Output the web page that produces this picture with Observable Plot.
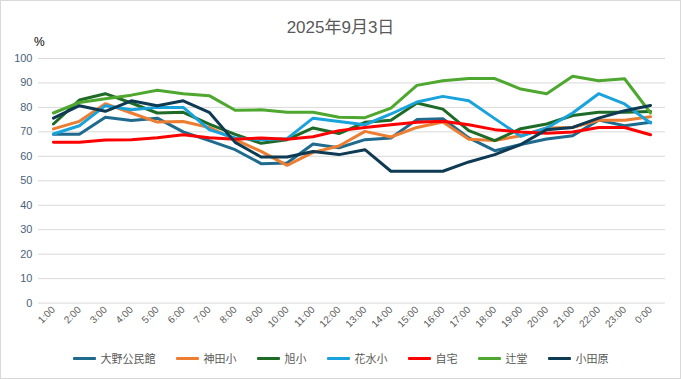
<!DOCTYPE html>
<html>
<head>
<meta charset="utf-8">
<script src="https://cdn.jsdelivr.net/npm/d3@7"></script>
<script src="https://cdn.jsdelivr.net/npm/@observablehq/plot@0.6"></script>
<style>
  html, body { margin: 0; padding: 0; background: #fff; }
  #wrap { position: relative; width: 681px; height: 379px; box-sizing: border-box; border: 1px solid #d9d9d9; background: #fff; overflow: hidden;
          font-family: "Liberation Sans", "Noto Sans CJK JP", sans-serif; }
  #title { position: absolute; left: 0; width: 679px; top: 12px; text-align: center; font-size: 17px; color: #595959; font-family: "Liberation Sans", "Noto Sans CJK JP", sans-serif; }
  #unit { position: absolute; left: 33px; top: 34px; font-size: 12px; color: #000; }
  #chart { position: absolute; left: -1px; top: 29px; }
  #legend { position: absolute; left: 0; width: 679px; top: 349px; display: flex; justify-content: center; gap: 20px; font-size: 11px; color: #595959; font-family: "Noto Sans CJK JP", sans-serif; }
  .item { display: flex; align-items: center; gap: 5px; }
  .sw { width: 23px; height: 3px; border-radius: 1px; }
</style>
</head>
<body>
<div id="wrap">
  <div id="title">2025年9月3日</div>
  <div id="unit">%</div>
  <div id="chart"></div>
  <div id="legend"></div>
</div>
<script>
const hours = ["1:00","2:00","3:00","4:00","5:00","6:00","7:00","8:00","9:00","10:00","11:00","12:00",
               "13:00","14:00","15:00","16:00","17:00","18:00","19:00","20:00","21:00","22:00","23:00","0:00"];
const seriesNames = ["大野公民館","神田小","旭小","花水小","自宅","辻堂","小田原"];
const seriesColors = ["#1F6A8F","#ED7D31","#1D6B26","#19A3DC","#FF0000","#4EA72E","#0E3A53"];
const yTicks = [0,10,20,30,40,50,60,70,80,90,100];

const ohno     = [69,69,76,74.6,75.6,70,66.4,62.7,57,57.3,65,63.5,66.8,67.5,75,75.4,67.5,62.3,64.8,67.1,68.4,74.8,72.5,73.9];
const kanda    = [71.2,74.3,81.5,77.7,74,74.2,71.8,66.8,62,56.3,61.6,64.2,70.2,67.9,71.8,74,67,66.5,68.4,71.6,71.8,74.7,74.7,76.2];
const asahi    = [73.2,83,85.6,81.8,77.7,78,73.2,69,65.3,66.8,71.6,69.3,73.9,74.7,81.8,79.3,70.5,66.4,71.3,73.2,76.7,78,78,78.3];
const hanamizu = [69.1,72.5,80.7,79,80,80,70.9,67.5,66.8,67.2,75.6,74.2,72.9,77.3,82.2,84.5,82.7,75.4,68.2,71.6,77.7,85.6,81.4,73.6];
const jitaku   = [65.7,65.7,66.7,66.8,67.6,68.8,67.6,67,67.5,67,68,70.5,71.8,72.9,73.9,74.3,72.9,70.9,69.9,69.4,69.9,71.8,71.8,68.8];
const tsujido  = [77.7,82,83.5,85,87,85.6,84.8,78.8,79,78,78,76,75.8,79.7,89,90.9,91.8,91.8,87.5,85.6,92.7,90.9,91.7,77.7];
const odawara  = [75.6,80.7,78.4,82.7,80.7,82.7,78,65.7,59.7,59.7,62,60.7,62.7,53.9,53.9,53.9,57.7,60.7,64.8,70.9,71.8,75.6,78.6,80.8];

const seriesValues = [ohno, kanda, asahi, hanamizu, jitaku, tsujido, odawara];
const data = [];
seriesNames.forEach((name, s) => {
  seriesValues[s].forEach((v, i) => data.push({series: name, hour: hours[i], value: v}));
});

const font = '"Liberation Sans", "Noto Sans CJK JP", sans-serif';
const chart = Plot.plot({
  width: 681,
  height: 311,
  marginTop: 28,
  marginBottom: 38,
  marginLeft: 38,
  marginRight: 15,
  style: {fontFamily: font, color: "#595959", background: "transparent"},
  x: {type: "point", domain: hours, padding: 0.5},
  y: {domain: [0, 100]},
  color: {domain: seriesNames, range: seriesColors},
  marks: [
    Plot.ruleY(yTicks, {stroke: "#d9d9d9", strokeWidth: 1}),
    Plot.axisY({ticks: yTicks, tickSize: 0, tickPadding: 6, label: null, fontSize: 11, fill: "#4d5f7a"}),
    Plot.axisX({tickSize: 0, tickRotate: -45, tickPadding: 5, label: null, fontSize: 10, fill: "#595959"}),
    Plot.line(data, {x: "hour", y: "value", z: "series", stroke: "series", strokeWidth: 3,
                     strokeLinejoin: "round", strokeLinecap: "round"})
  ]
});
document.getElementById("chart").appendChild(chart);

const legend = document.getElementById("legend");
seriesNames.forEach((name, i) => {
  const item = document.createElement("div");
  item.className = "item";
  const sw = document.createElement("div");
  sw.className = "sw";
  sw.style.background = seriesColors[i];
  const t = document.createElement("span");
  t.textContent = name;
  item.appendChild(sw);
  item.appendChild(t);
  legend.appendChild(item);
});
</script>
</body>
</html>
